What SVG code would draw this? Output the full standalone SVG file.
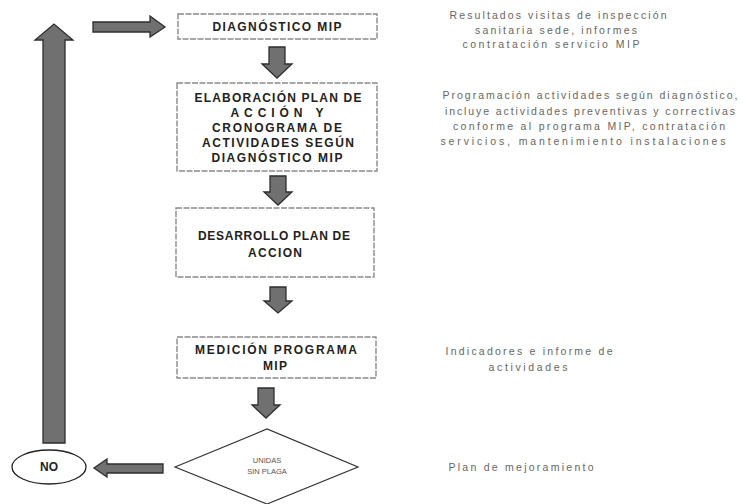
<svg xmlns="http://www.w3.org/2000/svg" width="743" height="504" viewBox="0 0 743 504">
<style>
.box{fill:#fff;stroke:#8a8a8a;stroke-width:1.4;stroke-dasharray:6 1.5}
.arr{fill:#707070;stroke:#2e2e2e;stroke-width:1.3}
.bt{font-family:"Liberation Sans",Arial,sans-serif;font-weight:bold;font-size:12px;fill:#222;text-anchor:middle}
.nt{font-family:"Liberation Sans",Arial,sans-serif;font-size:10.5px;fill:#666;text-anchor:middle}
.dt{font-family:"Liberation Sans",Arial,sans-serif;font-size:7.5px;fill:#555;text-anchor:middle}
</style>
<rect width="743" height="504" fill="#fff"/>
<g id="connectors">
<path class="arr" d="M43,443 L43,40 L35,40 L54,24 L73,40 L65,40 L65,443 Z"/>
<path class="arr" d="M93,22 L150,22 L150,16 L165,27 L150,37 L150,32 L93,32 Z"/>
<path class="arr" d="M269,47 L285,47 L285,64 L292,64 L277,78 L262,64 L269,64 Z"/>
<path class="arr" d="M270,176 L286,176 L286,192 L292,192 L278,205 L264,192 L270,192 Z"/>
<path class="arr" d="M270,287 L286,287 L286,301 L292,301 L278,313 L264,301 L270,301 Z"/>
<path class="arr" d="M258,388 L274,388 L274,405 L280,405 L266,418 L252,405 L258,405 Z"/>
<path class="arr" d="M163,464 L107,464 L107,459 L94,468 L107,477 L107,473 L163,473 Z"/>
</g>
<g id="n1">
<rect class="box" x="178" y="14" width="199" height="25"/>
<text class="bt" x="277" y="31" textLength="129">DIAGNÓSTICO MIP</text>
</g>
<g id="n2">
<rect class="box" x="177" y="83" width="200" height="88"/>
<text class="bt" x="278" y="102" textLength="167">ELABORACIÓN PLAN DE</text>
<text class="bt" x="277" y="117" textLength="93">ACCIÓN  Y</text>
<text class="bt" x="277" y="132" textLength="130">CRONOGRAMA DE</text>
<text class="bt" x="278" y="147" textLength="152">ACTIVIDADES SEGÚN</text>
<text class="bt" x="277" y="162" textLength="131">DIAGNÓSTICO MIP</text>
</g>
<g id="n3">
<rect class="box" x="176" y="208" width="198" height="69"/>
<text class="bt" x="274" y="240" textLength="152">DESARROLLO PLAN DE</text>
<text class="bt" x="275" y="257" textLength="54">ACCION</text>
</g>
<g id="n4">
<rect class="box" x="177" y="337" width="199" height="41"/>
<text class="bt" x="276" y="354" textLength="162">MEDICIÓN PROGRAMA</text>
<text class="bt" x="275" y="370" textLength="24">MIP</text>
</g>
<g id="n5">
<path d="M175,467 L267,429 L358,467 L267,504 Z" fill="#fff" stroke="#333" stroke-width="1.2"/>
<text class="dt" x="267" y="463">UNIDAS</text>
<text class="dt" x="267" y="474">SIN PLAGA</text>
</g>
<g id="n6">
<ellipse cx="49" cy="467" rx="37" ry="17" fill="#fff" stroke="#222" stroke-width="1.3"/>
<text class="bt" x="49" y="471" font-size="11">NO</text>
</g>
<g id="notes">
<text class="nt" x="558" y="19" textLength="217">Resultados visitas de inspección</text>
<text class="nt" x="556" y="34" textLength="162">sanitaria sede, informes</text>
<text class="nt" x="551" y="48" textLength="177">contratación servicio MIP</text>
<text class="nt" x="590" y="99" textLength="295">Programación actividades según diagnóstico,</text>
<text class="nt" x="590" y="115" textLength="290">incluye actividades preventivas y correctivas</text>
<text class="nt" x="589" y="130" textLength="272">conforme al programa MIP, contratación</text>
<text class="nt" x="583" y="145" textLength="285">servicios, mantenimiento instalaciones</text>
<text class="nt" x="529" y="355" textLength="167">Indicadores e informe de</text>
<text class="nt" x="528" y="371" textLength="79">actividades</text>
<text class="nt" x="521" y="471" textLength="145">Plan de mejoramiento</text>
</g>
</svg>
